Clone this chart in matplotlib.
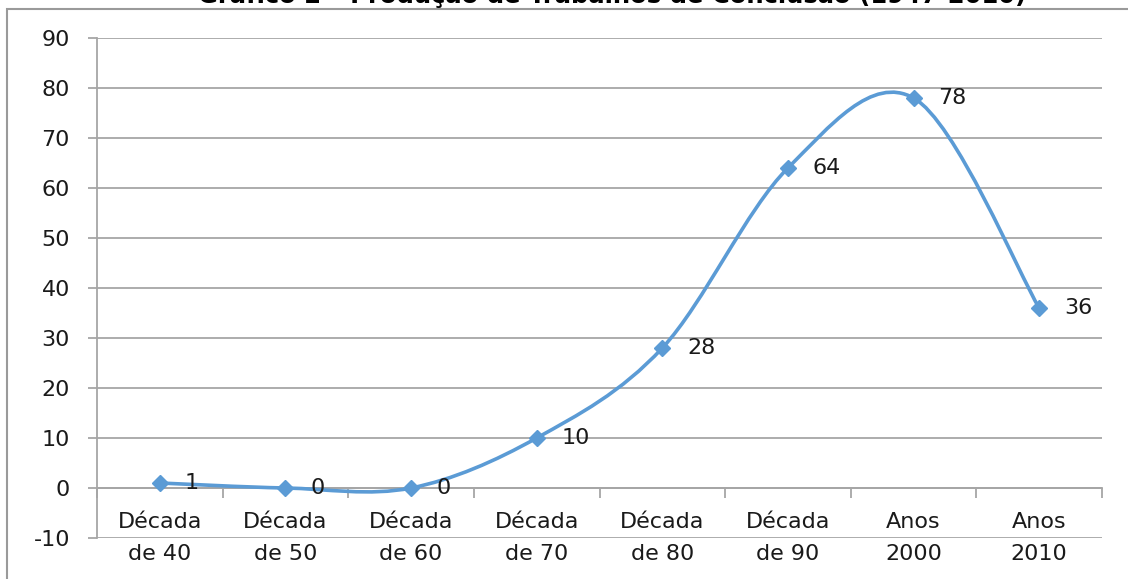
import numpy as np
import matplotlib
matplotlib.use("Agg")
import matplotlib.pyplot as plt
from matplotlib.path import Path
from matplotlib.patches import PathPatch, Rectangle

plt.rcParams["axes.unicode_minus"] = False

TITLE = "Gráfico 2 – Produção de Trabalhos de Conclusão (1947-2010)"
CATEGORIES = ["Década\nde 40", "Década\nde 50", "Década\nde 60", "Década\nde 70",
              "Década\nde 80", "Década\nde 90", "Anos\n2000", "Anos\n2010"]
VALUES = [1, 0, 0, 10, 28, 64, 78, 36]
Y_TICKS = list(range(-10, 100, 10))

BLUE = "#5B9BD5"
GRID = "#A6A6A6"
TXT = "#1a1a1a"
FS = 16
W, H = 1128, 579


def smooth_path(x, y):
    # Excel-style smoothed line: cubic Bezier through the points (Catmull-Rom tangents)
    pts = np.column_stack([x, y]).astype(float)
    pad = np.vstack([pts[0], pts, pts[-1]])
    verts, codes = [pts[0]], [Path.MOVETO]
    for i in range(len(pts) - 1):
        p0, p1, p2, p3 = pad[i], pad[i + 1], pad[i + 2], pad[i + 3]
        verts += [p1 + (p2 - p0) / 6, p2 - (p3 - p1) / 6, p2]
        codes += [Path.CURVE4] * 3
    return Path(verts, codes)


fig = plt.figure(figsize=(W / 100, H / 100), dpi=100)
ax = fig.add_axes([97 / W, 41 / H, 1005 / W, 500 / H])

x = np.arange(len(VALUES)) + 0.5
ax.add_patch(PathPatch(smooth_path(x, VALUES), fill=False, edgecolor=BLUE,
                       lw=2.6, capstyle="round", zorder=3))
ax.plot(x, VALUES, ls="none", marker="D", ms=8, color=BLUE, zorder=4)
for xi, v in zip(x, VALUES):
    ax.annotate(str(v), (xi, v), xytext=(18, 0), textcoords="offset points",
                ha="left", va="center", fontsize=FS, color=TXT, zorder=5)

ax.set_xlim(0, len(VALUES))
ax.set_ylim(-10, 90)
ax.set_yticks(Y_TICKS)
ax.yaxis.grid(True, color=GRID, lw=1.3)
ax.set_axisbelow(True)
ax.tick_params(axis="y", length=6.5, width=1.3, color=GRID, pad=13,
               labelsize=FS, labelcolor=TXT)

# boundary ticks on the zero line, category names centred below it
ax.set_xticks(np.arange(len(VALUES) + 1))
ax.set_xticklabels([])
ax.tick_params(axis="x", which="major", length=7, width=1.3, color=GRID, direction="out")
for xi, lab in zip(x, CATEGORIES):
    ax.annotate(lab, (xi, 0), xytext=(0, -17.5), textcoords="offset points",
                ha="center", va="top", fontsize=FS, color=TXT,
                linespacing=1.75, multialignment="center", annotation_clip=False)

for s in ("top", "right"):
    ax.spines[s].set_visible(False)
ax.spines["bottom"].set_position(("data", 0))
for s in ("bottom", "left"):
    ax.spines[s].set_color(GRID)
    ax.spines[s].set_linewidth(1.3)

fig.add_artist(Rectangle((7 / W, -0.1), 1.2, (H - 8.5) / H + 0.1,
                         transform=fig.transFigure, fill=False,
                         edgecolor="#9a9a9a", lw=1.5))
fig.text(612 / W, 1 - 3.5 / H, TITLE, ha="center", va="baseline",
         fontsize=17.5, fontweight="bold")

fig.savefig("out.png", dpi=100)
